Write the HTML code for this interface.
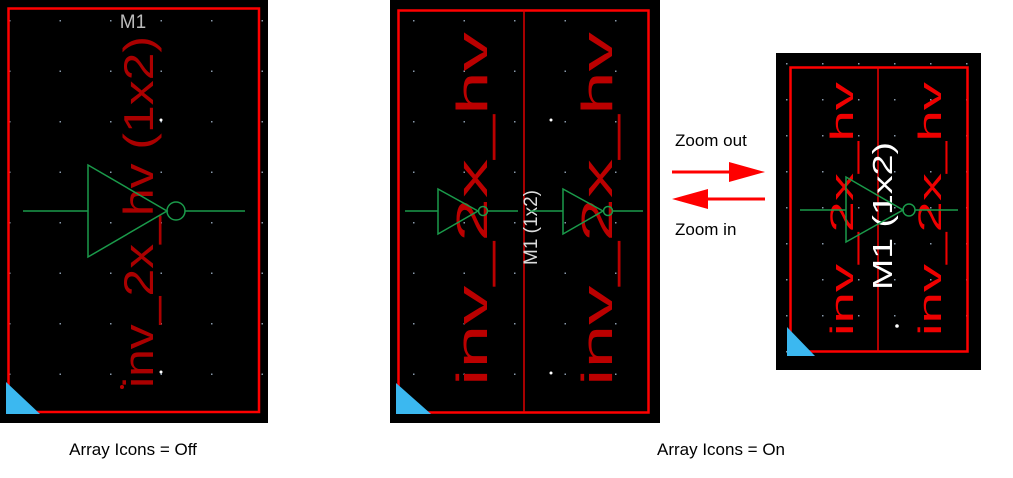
<!DOCTYPE html>
<html><head><style>
html,body{margin:0;padding:0;background:#fff;width:1013px;height:478px;overflow:hidden}
svg{display:block}
text{font-family:"Liberation Sans",sans-serif}
</style></head><body>
<svg width="1013" height="478" viewBox="0 0 1013 478" xmlns="http://www.w3.org/2000/svg">
<defs>
<pattern id="g1" x="9" y="20" width="50.5" height="50.5" patternUnits="userSpaceOnUse"><rect x="0" y="0" width="1.5" height="1.5" fill="#8899aa"/></pattern>
<pattern id="g3" x="786" y="63" width="36" height="36" patternUnits="userSpaceOnUse"><rect x="0" y="0" width="1.5" height="1.5" fill="#8899aa"/></pattern>
</defs>
<!-- Panel 1 -->
<rect x="0" y="0" width="268" height="423" fill="#000"/>
<rect x="0" y="0" width="268" height="423" fill="url(#g1)"/>
<rect x="8.5" y="8.5" width="250.5" height="403.5" fill="none" stroke="#f00" stroke-width="2.5"/>
<text x="133" y="28" fill="#bbb" font-size="19" text-anchor="middle">M1</text>
<text transform="translate(153,388) rotate(-90)" fill="#a00" font-size="42" textLength="352" lengthAdjust="spacingAndGlyphs">inv_2x_hv (1x2)</text>
<polyline points="23,211 88,211" stroke="#1a9a4a" stroke-width="1.5"/>
<polygon points="88,165 88,257 167,211" fill="none" stroke="#1a9a4a" stroke-width="1.5"/>
<circle cx="176" cy="211" r="9" fill="none" stroke="#1a9a4a" stroke-width="1.5"/>
<line x1="185" y1="211" x2="245" y2="211" stroke="#1a9a4a" stroke-width="1.5"/>
<polygon points="6,382 6,414 40,414" fill="#3bb8f0"/>
<circle cx="122" cy="387" r="2" fill="#b00"/>
<circle cx="161" cy="120" r="1.5" fill="#fff"/><circle cx="161" cy="372" r="1.5" fill="#fff"/>

<!-- Panel 2 -->
<rect x="390" y="0" width="270" height="423" fill="#000"/>
<rect x="390" y="0" width="270" height="423" fill="url(#g1)"/>
<rect x="398.5" y="10.5" width="250" height="402" fill="none" stroke="#f00" stroke-width="2.5"/>
<line x1="524" y1="10" x2="524" y2="412" stroke="#d00" stroke-width="1.5"/>
<text transform="translate(487,386) rotate(-90)" fill="#b00" font-size="44" textLength="354" lengthAdjust="spacingAndGlyphs">inv_2x_hv</text>
<text transform="translate(612,386) rotate(-90)" fill="#b00" font-size="44" textLength="354" lengthAdjust="spacingAndGlyphs">inv_2x_hv</text>
<text transform="translate(537,265) rotate(-90)" fill="#ddd" font-size="19">M1 (1x2)</text>
<line x1="405" y1="211" x2="438" y2="211" stroke="#1a9a4a" stroke-width="1.5"/>
<polygon points="438,189 438,234 478,211" fill="none" stroke="#1a9a4a" stroke-width="1.5"/>
<circle cx="483" cy="211" r="4.5" fill="none" stroke="#1a9a4a" stroke-width="1.5"/>
<line x1="488" y1="211" x2="518" y2="211" stroke="#1a9a4a" stroke-width="1.5"/>
<line x1="530" y1="211" x2="563" y2="211" stroke="#1a9a4a" stroke-width="1.5"/>
<polygon points="563,189 563,234 603,211" fill="none" stroke="#1a9a4a" stroke-width="1.5"/>
<circle cx="608" cy="211" r="4.5" fill="none" stroke="#1a9a4a" stroke-width="1.5"/>
<line x1="613" y1="211" x2="643" y2="211" stroke="#1a9a4a" stroke-width="1.5"/>
<polygon points="396,383 396,414 431,414" fill="#3bb8f0"/>
<circle cx="551" cy="120" r="1.5" fill="#fff"/><circle cx="551" cy="373" r="1.5" fill="#fff"/>

<!-- Arrows -->
<text x="675" y="146" fill="#000" font-size="17">Zoom out</text>
<line x1="672" y1="172" x2="735" y2="172" stroke="#f00" stroke-width="3"/>
<polygon points="729,162 765,172 729,182" fill="#f00"/>
<line x1="700" y1="199" x2="765" y2="199" stroke="#f00" stroke-width="3"/>
<polygon points="708,189 672,199 708,209" fill="#f00"/>
<text x="675" y="235" fill="#000" font-size="17">Zoom in</text>

<!-- Panel 3 -->
<rect x="776" y="53" width="205" height="317" fill="#000"/>
<rect x="776" y="53" width="205" height="317" fill="url(#g3)"/>
<rect x="790.5" y="67.5" width="177" height="284" fill="none" stroke="#f00" stroke-width="2.5"/>
<line x1="878" y1="67" x2="878" y2="352" stroke="#e00" stroke-width="1.5"/>
<text transform="translate(853,336) rotate(-90)" fill="#e00" font-size="32" textLength="254" lengthAdjust="spacingAndGlyphs">inv_2x_hv</text>
<text transform="translate(941,336) rotate(-90)" fill="#e00" font-size="32" textLength="254" lengthAdjust="spacingAndGlyphs">inv_2x_hv</text>
<text transform="translate(892,290) rotate(-90)" fill="#fff" font-size="28" textLength="148" lengthAdjust="spacingAndGlyphs">M1 (1x2)</text>
<line x1="800" y1="210" x2="846" y2="210" stroke="#1a9a4a" stroke-width="1.5"/>
<polygon points="846,177 846,242 903,210" fill="none" stroke="#1a9a4a" stroke-width="1.5"/>
<circle cx="909" cy="210" r="6" fill="none" stroke="#1a9a4a" stroke-width="1.5"/>
<line x1="915" y1="210" x2="958" y2="210" stroke="#1a9a4a" stroke-width="1.5"/>
<polygon points="787,327 787,356 815,356" fill="#3bb8f0"/>
<circle cx="897" cy="326" r="1.8" fill="#fff"/>

<text x="133" y="455" fill="#000" font-size="17" text-anchor="middle">Array Icons = Off</text>
<text x="721" y="455" fill="#000" font-size="17" text-anchor="middle">Array Icons = On</text>
</svg>
</body></html>
